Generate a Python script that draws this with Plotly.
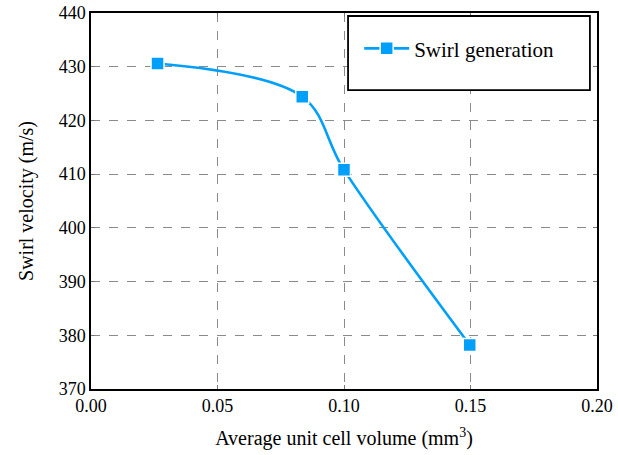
import plotly.graph_objects as go

cell_volume = [0.0263, 0.0835, 0.1, 0.1497]
swirl_velocity = [430.6, 424.4, 410.8, 378.2]
series_name = "Swirl generation"
x_ticks = [0.0, 0.05, 0.10, 0.15, 0.20]
x_tick_labels = ["0.00", "0.05", "0.10", "0.15", "0.20"]
y_ticks = [370, 380, 390, 400, 410, 420, 430, 440]

blue = "rgb(0,160,250)"
font_family = "Liberation Serif, DejaVu Serif, serif"

fig = go.Figure()
fig.add_trace(go.Scatter(
    x=cell_volume, y=swirl_velocity, name=series_name,
    mode="lines+markers",
    line=dict(color=blue, width=2.6, shape="spline", smoothing=1.0),
    marker=dict(symbol="square", size=13, color=blue, line=dict(color="white", width=1.5)),
))

axis_common = dict(
    showline=True, linecolor="black", linewidth=1.5, mirror="ticks",
    ticks="inside", ticklen=4, tickcolor="#777", tickwidth=1,
    showgrid=True, gridcolor="#8a8a8a", griddash="dash", gridwidth=1,
    zeroline=False, automargin=False,
    tickfont=dict(family=font_family, size=18, color="black"),
)

fig.update_layout(
    width=618, height=455,
    margin=dict(l=91, r=21, t=13, b=66),
    paper_bgcolor="white", plot_bgcolor="white",
    font=dict(family=font_family, color="black"),
    xaxis=dict(range=[0, 0.2], tickvals=x_ticks, ticktext=x_tick_labels,
               title=dict(text="Average unit cell volume (mm<sup>3</sup>)",
                          font=dict(family=font_family, size=20), standoff=16),
               **axis_common),
    yaxis=dict(range=[370, 440], tickvals=y_ticks,
               title=dict(text="Swirl velocity (m/s)",
                          font=dict(family=font_family, size=20), standoff=20),
               **axis_common),
    legend=dict(x=0.53, y=0.905, xanchor="left", yanchor="middle",
                bgcolor="rgba(0,0,0,0)", borderwidth=0, itemwidth=45,
                font=dict(family=font_family, size=21)),
    showlegend=True,
)

fig.add_shape(type="rect", xref="paper", yref="paper",
              x0=0.508, x1=0.986, y0=0.795, y1=0.992,
              line=dict(color="black", width=1.8), fillcolor="white", layer="above")

fig.write_html("out.html")
